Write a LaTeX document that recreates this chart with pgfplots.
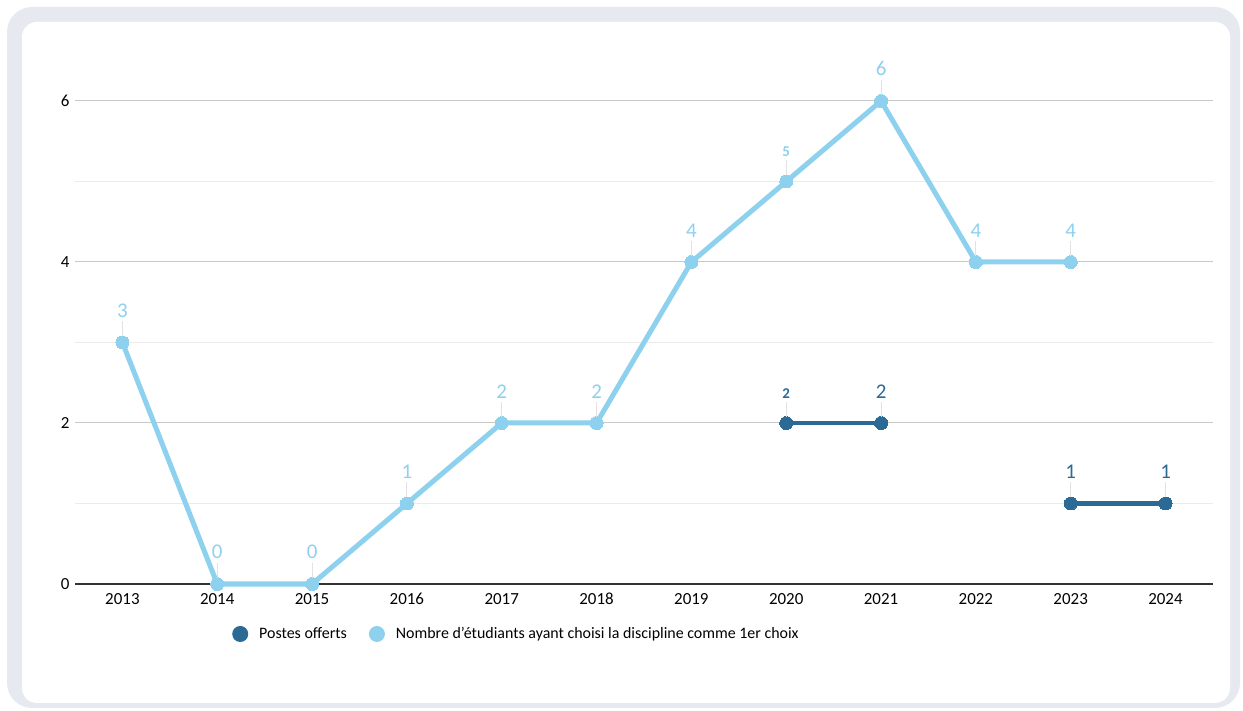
\documentclass[border=0pt]{standalone}
\usepackage{fontspec}
\setmainfont{Carlito}
\usepackage{pgfplots}
\pgfplotsset{compat=1.18}
\definecolor{light}{HTML}{8ED1EE}
\definecolor{dark}{HTML}{2A6A95}
\definecolor{framec}{HTML}{E6EAF0}
\definecolor{majgrid}{HTML}{C8C8C8}
\definecolor{mingrid}{HTML}{EBEBEB}
\definecolor{lead}{HTML}{E2E2E2}
\definecolor{axisc}{HTML}{333333}
\protected\def\sm{\fontsize{15}{15}\selectfont\bfseries}
\newcommand\lbl[1]{\vbox{\hbox to 0pt{\hss\fontsize{21}{21}\selectfont #1\hss}\kern3bp\hbox to 0pt{\hss\textcolor{lead}{\rule{1bp}{15bp}}\hss}}}
\begin{document}
\begin{tikzpicture}
\useasboundingbox (0,0) rectangle (1243bp,711bp);
\fill[framec, rounded corners=25bp] (7bp,3bp) rectangle (1240bp,704bp);
\fill[white, rounded corners=15bp] (22bp,8bp) rectangle (1230bp,689bp);
\begin{axis}[
  at={(75bp,127bp)}, anchor=south west,
  scale only axis, width=1138bp, height=483bp,
  xmin=2012.5, xmax=2024.5, ymin=0, ymax=6,
  clip=false,
  axis x line*=bottom, axis y line*=left,
  y axis line style={draw=none},
  x axis line style={-, color=axisc, line width=1.3bp},
  xtick={2013,...,2024},
  ytick={0,2,4,6}, minor ytick={1,3,5},
  ymajorgrids, yminorgrids,
  major grid style={majgrid, line width=1bp},
  minor grid style={mingrid, line width=1bp},
  major tick length=0pt, minor tick length=0pt,
  /pgf/number format/.cd, set thousands separator={}, assume math mode=true, /pgfplots/.cd,
  tick label style={font=\fontsize{17}{17}\selectfont, text=black},
  x tick label style={anchor=north, text height=12bp, text depth=0pt, yshift=-5bp},
  y tick label style={xshift=-2bp},
  unbounded coords=jump,
  point meta=explicit symbolic,
  nodes near coords={\lbl{\pgfplotspointmeta}},
  every node near coord/.append style={anchor=south, inner sep=0pt, yshift=6bp},
  legend style={at={(0.138,-0.1035)}, anchor=west, draw=none, fill=none,
    font=\fontsize{16}{16}\selectfont, inner sep=0pt,
    nodes={inner sep=0pt},
    /tikz/every even column/.append style={column sep=22bp}},
  legend columns=2,
]
\addplot[dark, line width=4.5bp, mark=*, mark size=6.5bp, mark options={fill=dark, draw=none, line width=0pt},
  every node near coord/.append style={text=dark},
  legend image code/.code={\fill[dark, draw=none] (0,0) circle (8bp); \path[draw=none, fill=none] (-8bp,-1bp) rectangle (19bp,1bp);}]
  coordinates {(2020,2) [\sm 2] (2021,2) [2] (2022,nan) [] (2023,1) [1] (2024,1) [1]};
\addlegendentry{Postes offerts}
\addplot[light, line width=5bp, mark=*, mark size=6.5bp, mark options={fill=light, draw=none, line width=0pt},
  every node near coord/.append style={text=light},
  legend image code/.code={\fill[light, draw=none] (0,0) circle (8bp); \path[draw=none, fill=none] (-8bp,-1bp) rectangle (19bp,1bp);}]
  coordinates {(2013,3) [3] (2014,0) [0] (2015,0) [0] (2016,1) [1] (2017,2) [2] (2018,2) [2]
    (2019,4) [4] (2020,5) [\sm 5] (2021,6) [6] (2022,4) [4] (2023,4) [4]};
\addlegendentry{Nombre d'étudiants ayant choisi la discipline comme 1er choix}
\end{axis}
\end{tikzpicture}
\end{document}
